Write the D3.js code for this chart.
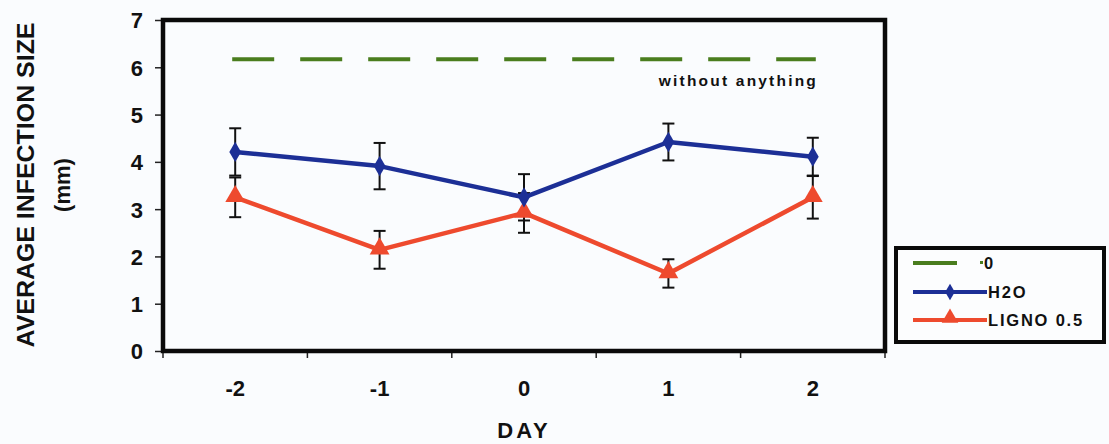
<!DOCTYPE html>
<html>
<head>
<meta charset="utf-8">
<script src="https://cdn.jsdelivr.net/npm/d3@7"></script>
<style>
  html, body { margin: 0; padding: 0; background: #fafcfe; }
  svg { display: block; }
  text { font-family: "Liberation Sans", Arial, sans-serif; font-weight: bold; fill: #111; }
</style>
</head>
<body>
<svg id="chart" width="1109" height="444"></svg>
<script>
// Days of treatment relative to inoculation
const days = [-2, -1, 0, 1, 2];
// Mean infection size (mm) and error bars
const h2oMean = [4.21, 3.91, 3.25, 4.42, 4.11];
const h2oErr  = [0.50, 0.49, 0.49, 0.39, 0.40];
const lignoMean = [3.25, 2.14, 2.92, 1.64, 3.25];
const lignoErr  = [0.42, 0.40, 0.42, 0.30, 0.45];
// Untreated reference level
const controlLevel = 6.17;
const yTicks = [0, 1, 2, 3, 4, 5, 6, 7];
const seriesNames = ["0", "H2O", "LIGNO 0.5"];
const seriesColors = ["#4a7d1e", "#1c2f96", "#ee4a2e"];

const svg = d3.select("#chart");
const plot = { left: 163, right: 885, top: 20, bottom: 351 };

const x = d3.scaleBand().domain(days).range([plot.left, plot.right]);
const xc = d => x(d) + x.bandwidth() / 2;
const y = d3.scaleLinear().domain([0, 7]).range([plot.bottom, plot.top]);

// Y axis ticks and labels
const yAxis = d3.axisLeft(y).tickValues(yTicks).tickSize(8).tickPadding(12).tickFormat(d => String(d));
const gy = svg.append("g").attr("transform", `translate(${plot.left},0)`).call(yAxis);
gy.select(".domain").remove();
gy.selectAll(".tick line").attr("stroke", "#222").attr("stroke-width", 1.5);
gy.selectAll(".tick text").style("font-size", "22px").attr("dy", "0.36em");

// X axis: ticks between categories
const bounds = days.map(d => x(d)).concat([plot.right]);
svg.append("g").selectAll("line").data(bounds).join("line")
  .attr("x1", d => d).attr("x2", d => d)
  .attr("y1", plot.bottom).attr("y2", plot.bottom + 7)
  .attr("stroke", "#222").attr("stroke-width", 1.5);
svg.append("g").selectAll("text").data(days).join("text")
  .attr("x", d => xc(d)).attr("y", 396)
  .attr("text-anchor", "middle")
  .style("font-size", "22px")
  .text(d => String(d));

// Axis titles
svg.append("text").attr("x", 524).attr("y", 438).attr("text-anchor", "middle")
  .style("font-size", "22px").style("letter-spacing", "3px").text("DAY");
svg.append("text").attr("transform", "translate(34,185) rotate(-90)")
  .attr("text-anchor", "middle").style("font-size", "23px")
  .attr("textLength", 325).attr("lengthAdjust", "spacingAndGlyphs")
  .text("AVERAGE INFECTION SIZE");
svg.append("text").attr("transform", "translate(70,185) rotate(-90)")
  .attr("text-anchor", "middle").style("font-size", "22px").text("(mm)");

// Plot frame
svg.append("rect")
  .attr("x", plot.left).attr("y", plot.top)
  .attr("width", plot.right - plot.left).attr("height", plot.bottom - plot.top)
  .attr("fill", "none").attr("stroke", "#0a0a0a").attr("stroke-width", 4.5);

// Untreated level as a dashed line
svg.append("line")
  .attr("x1", xc(days[0]) - 3).attr("x2", xc(days[days.length - 1]) + 3)
  .attr("y1", y(controlLevel)).attr("y2", y(controlLevel))
  .attr("stroke", seriesColors[0]).attr("stroke-width", 4)
  .attr("stroke-dasharray", "42,26");
svg.append("text").attr("x", 818).attr("y", 86).attr("text-anchor", "end")
  .style("font-size", "15.5px").style("letter-spacing", "2.2px").text("without anything");

const line = d3.line().x((d, i) => xc(days[i])).y(d => y(d));
const diamond = d3.symbol().type(d3.symbolDiamond).size(120);
const triangle = d3.symbol().type(d3.symbolTriangle).size(170);

function drawErrors(means, errs) {
  const g = svg.append("g").attr("stroke", "#111").attr("stroke-width", 2);
  means.forEach((m, i) => {
    const cx = xc(days[i]);
    g.append("line").attr("x1", cx).attr("x2", cx).attr("y1", y(m - errs[i])).attr("y2", y(m + errs[i]));
    [m - errs[i], m + errs[i]].forEach(v => {
      g.append("line").attr("x1", cx - 6).attr("x2", cx + 6).attr("y1", y(v)).attr("y2", y(v));
    });
  });
}

function drawSeries(means, color, sym, dy) {
  svg.append("path").datum(means).attr("d", line)
    .attr("fill", "none").attr("stroke", color).attr("stroke-width", 4.5).attr("stroke-linejoin", "round");
  svg.append("g").selectAll("path").data(means).join("path")
    .attr("transform", (d, i) => `translate(${xc(days[i])},${y(d) + dy})`)
    .attr("d", sym).attr("fill", color);
}

drawErrors(lignoMean, lignoErr);
drawErrors(h2oMean, h2oErr);
drawSeries(lignoMean, seriesColors[2], triangle, -1);
drawSeries(h2oMean, seriesColors[1], diamond, 0);

// Legend
const lg = svg.append("g");
lg.append("rect").attr("x", 896).attr("y", 248).attr("width", 208).attr("height", 94)
  .attr("fill", "#fcfdfe").attr("stroke", "#0a0a0a").attr("stroke-width", 4);
const rows = [263, 292, 320];
lg.append("line").attr("x1", 913).attr("x2", 957).attr("y1", rows[0]).attr("y2", rows[0])
  .attr("stroke", seriesColors[0]).attr("stroke-width", 4);
lg.append("rect").attr("x", 980).attr("y", rows[0] - 2).attr("width", 3).attr("height", 3).attr("fill", seriesColors[0]);
[1, 2].forEach(k => {
  lg.append("line").attr("x1", 913).attr("x2", 987).attr("y1", rows[k]).attr("y2", rows[k])
    .attr("stroke", seriesColors[k]).attr("stroke-width", 4);
  lg.append("path").attr("transform", `translate(950,${rows[k] + (k === 2 ? -2 : 0)})`)
    .attr("d", k === 1 ? d3.symbol().type(d3.symbolDiamond).size(80)() : d3.symbol().type(d3.symbolTriangle).size(120)())
    .attr("fill", seriesColors[k]);
});
lg.selectAll("text.lab").data(seriesNames).join("text").attr("class", "lab")
  .attr("x", (d, i) => i === 0 ? 984 : 988).attr("y", (d, i) => rows[i] + 6)
  .style("font-size", "16.5px").style("letter-spacing", "1.8px").text(d => d);
</script>
</body>
</html>
